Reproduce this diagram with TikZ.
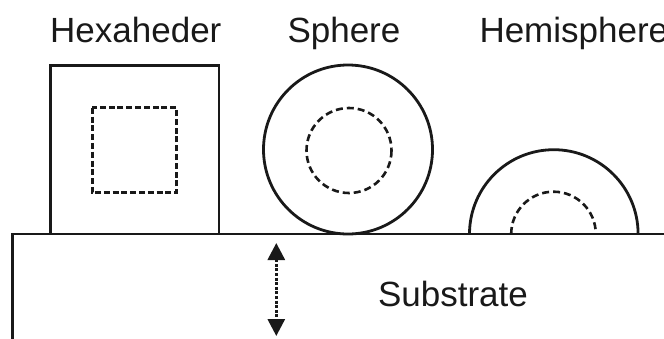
\documentclass[tikz,border=0pt]{standalone}
\usepackage{fontspec}
\setmainfont{Liberation Sans}
\usetikzlibrary{arrows.meta}
\begin{document}
\begin{tikzpicture}[x=1pt,y=-1pt,
  solidline/.style={line width=2.8pt,black!90},
  innerdash/.style={line width=3pt,black!90,dash pattern=on 6pt off 2.8pt},
  circdash/.style={line width=2.6pt,black!90,dash pattern=on 7pt off 4pt},
  lbl/.style={anchor=base west,inner sep=0pt,font=\fontsize{35}{42}\selectfont,text=black!90}]
\useasboundingbox (0,0) rectangle (664,338);
\clip (0,0) rectangle (664,338);
% labels
\node[lbl] (hexlbl) at (50,42.3) {Hexaheder};
\node[lbl] (sphlbl) at (287.3,42.3) {Sphere};
\node[lbl] (hemlbl) at (479.3,42.3) {Hemisphere};
\node[lbl,anchor=base] (sublbl) at (453,306) {Substrate};
% substrate
\draw[solidline] (12.7,340) -- (12.7,234) -- (670,234);
% hexahedron
\draw[solidline] (50.7,234) -- (50.7,65.7) -- (219,65.7) -- (219,234);
\draw[innerdash] (92,107.7) rectangle (176.7,192.7);
% sphere
\draw[solidline] (348,149.5) circle[radius=84.5];
\draw[circdash] (349,150.5) circle[radius=42.5];
% hemisphere
\draw[solidline] (469.5,234) arc[start angle=180,end angle=360,radius=84.3];
\draw[circdash] (511.2,234) arc[start angle=180,end angle=360,radius=42.3];
% arrow
\coordinate (atop) at (276.3,243);
\coordinate (abot) at (276.3,336);
\draw[line width=3pt,black!90,dash pattern=on 3pt off 1.6pt,
  {Triangle[width=17pt,length=17pt]}-{Triangle[width=17pt,length=17pt]}] (atop) -- (abot);
\end{tikzpicture}
\end{document}
